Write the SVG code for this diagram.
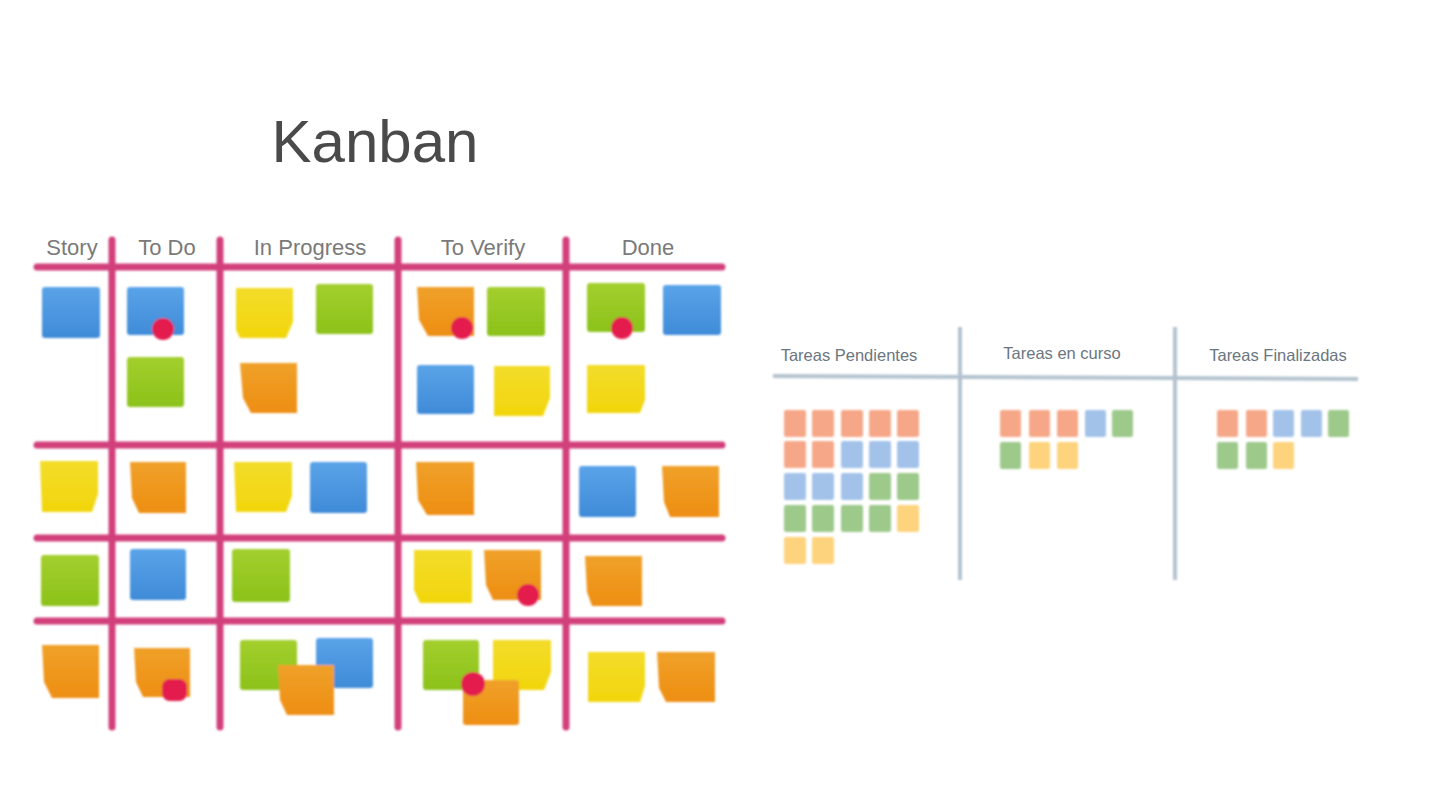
<svg xmlns="http://www.w3.org/2000/svg" width="1440" height="810" viewBox="0 0 1440 810">
<defs>
<filter id="soft" x="-5%" y="-5%" width="110%" height="110%"><feGaussianBlur stdDeviation="1.3"/></filter>
<linearGradient id="gB" x1="0" y1="0" x2="0" y2="1"><stop offset="0" stop-color="#5aa3e8"/><stop offset="1" stop-color="#3f8bd8"/></linearGradient>
<linearGradient id="gG" x1="0" y1="0" x2="0" y2="1"><stop offset="0" stop-color="#a3cf2e"/><stop offset="1" stop-color="#8cc21a"/></linearGradient>
<linearGradient id="gY" x1="0" y1="0" x2="0" y2="1"><stop offset="0" stop-color="#f3dc2a"/><stop offset="1" stop-color="#f2d60c"/></linearGradient>
<linearGradient id="gO" x1="0" y1="0" x2="0" y2="1"><stop offset="0" stop-color="#f0a12a"/><stop offset="1" stop-color="#ee8e12"/></linearGradient>
</defs>
<style>
.title{font-family:"Liberation Sans",Arial,sans-serif;font-size:60px;fill:#4a4a4a}
.hd{font-family:"Liberation Sans",Arial,sans-serif;font-size:22px;fill:#7a7a7a;text-anchor:middle}
.hd2{font-family:"Liberation Sans",Arial,sans-serif;font-size:16.5px;fill:#6b7680;text-anchor:middle}
.pl{stroke:#d2407c;stroke-width:7;stroke-linecap:round}
.gl{stroke:#b3c3cf;stroke-width:4}
.B{fill:url(#gB)}.G{fill:url(#gG)}.Y{fill:url(#gY)}.O{fill:url(#gO)}
.dot{fill:#e31a4e}
.sb{fill:#a3c2e9}.so{fill:#f6a788}.sg{fill:#9dc98b}.sy{fill:#fdd37d}
</style>
<rect width="1440" height="810" fill="#fff"/>
<text class="title" x="375" y="162" text-anchor="middle">Kanban</text>

<g id="kanban-headers">
<text class="hd" x="72" y="255">Story</text>
<text class="hd" x="167" y="255">To Do</text>
<text class="hd" x="310" y="255">In Progress</text>
<text class="hd" x="483" y="255">To Verify</text>
<text class="hd" x="648" y="255">Done</text>
</g>

<g id="kanban-grid" filter="url(#soft)">
<line class="pl" x1="37" y1="267" x2="722" y2="267"/>
<line class="pl" x1="37" y1="445" x2="722" y2="445"/>
<line class="pl" x1="37" y1="538" x2="722" y2="538"/>
<line class="pl" x1="37" y1="621" x2="722" y2="621"/>
<line class="pl" x1="112" y1="240" x2="112" y2="727"/>
<line class="pl" x1="220" y1="240" x2="220" y2="727"/>
<line class="pl" x1="398" y1="240" x2="398" y2="727"/>
<line class="pl" x1="566" y1="240" x2="566" y2="727"/>
</g>

<g id="kanban-notes" filter="url(#soft)">
<rect class="B" x="42" y="287" width="58" height="51" rx="3"/>
<rect class="B" x="127" y="287" width="57" height="48" rx="3"/>
<circle class="dot" cx="163" cy="329" r="11"/>
<rect class="G" x="127" y="357" width="57" height="50" rx="3"/>
<path class="Y" d="M236 288 H293 V322 L286 338 H240 L236 330 Z"/>
<rect class="G" x="316" y="284" width="57" height="50" rx="3"/>
<path class="O" d="M240 363 H297 V413 H251 L243 398 Z"/>
<path class="O" d="M417 287 H474 V336 H428 L419 320 Z"/>
<circle class="dot" cx="462" cy="328" r="11"/>
<rect class="G" x="487" y="287" width="58" height="49" rx="3"/>
<rect class="B" x="417" y="365" width="57" height="49" rx="3"/>
<path class="Y" d="M494 366 H550 V398 L543 416 H494 Z"/>
<rect class="G" x="587" y="283" width="58" height="49" rx="3"/>
<circle class="dot" cx="622" cy="328" r="11"/>
<rect class="B" x="663" y="285" width="58" height="50" rx="3"/>
<path class="Y" d="M587 365 H645 V400 L640 413 H587 Z"/>
<path class="Y" d="M40 461 H98 V494 L92 512 H42 Z"/>
<path class="O" d="M130 462 H186 V513 H139 L132 498 Z"/>
<path class="Y" d="M234 462 H292 V496 L286 512 H236 Z"/>
<rect class="B" x="310" y="462" width="57" height="51" rx="3"/>
<path class="O" d="M416 462 H474 V515 H427 L418 500 Z"/>
<rect class="B" x="579" y="466" width="57" height="51" rx="3"/>
<path class="O" d="M662 466 H719 V517 H670 L664 502 Z"/>
<rect class="G" x="41" y="555" width="58" height="51" rx="3"/>
<rect class="B" x="130" y="549" width="56" height="51" rx="3"/>
<rect class="G" x="232" y="549" width="58" height="53" rx="3"/>
<path class="Y" d="M414 550 H472 V603 H420 L414 590 Z"/>
<path class="O" d="M484 550 H541 V600 H493 L486 585 Z"/>
<circle class="dot" cx="528" cy="595" r="11"/>
<path class="O" d="M585 556 H642 V606 H592 L587 592 Z"/>
<path class="O" d="M42 645 H99 V698 H52 L44 682 Z"/>
<path class="O" d="M134 648 H190 V697 H143 L136 682 Z"/>
<rect class="dot" x="162" y="679" width="25" height="22" rx="8"/>
<rect class="G" x="240" y="640" width="57" height="50" rx="3"/>
<rect class="B" x="316" y="638" width="57" height="50" rx="3"/>
<path class="O" d="M278 665 H334 V715 H287 L280 700 Z"/>
<rect class="G" x="423" y="640" width="56" height="50" rx="3"/>
<path class="Y" d="M493 640 H551 V672 L544 690 H493 Z"/>
<rect class="O" x="463" y="680" width="56" height="45" rx="3"/>
<circle class="dot" cx="473" cy="684" r="12"/>
<path class="Y" d="M588 652 H645 V686 L640 702 H588 Z"/>
<path class="O" d="M657 652 H715 V702 H666 L659 688 Z"/>
</g>

<g id="task-headers">
<text class="hd2" x="849" y="361">Tareas Pendientes</text>
<text class="hd2" x="1062" y="359">Tareas en curso</text>
<text class="hd2" x="1278" y="361">Tareas Finalizadas</text>
</g>

<g id="task-grid" filter="url(#soft)">
<line class="gl" x1="773" y1="376" x2="1358" y2="379"/>
<line class="gl" x1="960" y1="327" x2="960" y2="580"/>
<line class="gl" x1="1175" y1="327" x2="1175" y2="580"/>
</g>

<g id="task-cards" filter="url(#soft)">
<rect class="so" x="784" y="410" width="22" height="27" rx="2"/>
<rect class="so" x="812" y="410" width="22" height="27" rx="2"/>
<rect class="so" x="841" y="410" width="22" height="27" rx="2"/>
<rect class="so" x="869" y="410" width="22" height="27" rx="2"/>
<rect class="so" x="897" y="410" width="22" height="27" rx="2"/>
<rect class="so" x="784" y="441" width="22" height="27" rx="2"/>
<rect class="so" x="812" y="441" width="22" height="27" rx="2"/>
<rect class="sb" x="841" y="441" width="22" height="27" rx="2"/>
<rect class="sb" x="869" y="441" width="22" height="27" rx="2"/>
<rect class="sb" x="897" y="441" width="22" height="27" rx="2"/>
<rect class="sb" x="784" y="473" width="22" height="27" rx="2"/>
<rect class="sb" x="812" y="473" width="22" height="27" rx="2"/>
<rect class="sb" x="841" y="473" width="22" height="27" rx="2"/>
<rect class="sg" x="869" y="473" width="22" height="27" rx="2"/>
<rect class="sg" x="897" y="473" width="22" height="27" rx="2"/>
<rect class="sg" x="784" y="505" width="22" height="27" rx="2"/>
<rect class="sg" x="812" y="505" width="22" height="27" rx="2"/>
<rect class="sg" x="841" y="505" width="22" height="27" rx="2"/>
<rect class="sg" x="869" y="505" width="22" height="27" rx="2"/>
<rect class="sy" x="897" y="505" width="22" height="27" rx="2"/>
<rect class="sy" x="784" y="537" width="22" height="27" rx="2"/>
<rect class="sy" x="812" y="537" width="22" height="27" rx="2"/>
<rect class="so" x="1000" y="410" width="21" height="27" rx="2"/>
<rect class="so" x="1029" y="410" width="21" height="27" rx="2"/>
<rect class="so" x="1057" y="410" width="21" height="27" rx="2"/>
<rect class="sb" x="1085" y="410" width="21" height="27" rx="2"/>
<rect class="sg" x="1112" y="410" width="21" height="27" rx="2"/>
<rect class="sg" x="1000" y="442" width="21" height="27" rx="2"/>
<rect class="sy" x="1029" y="442" width="21" height="27" rx="2"/>
<rect class="sy" x="1057" y="442" width="21" height="27" rx="2"/>
<rect class="so" x="1217" y="410" width="21" height="27" rx="2"/>
<rect class="so" x="1246" y="410" width="21" height="27" rx="2"/>
<rect class="sb" x="1273" y="410" width="21" height="27" rx="2"/>
<rect class="sb" x="1301" y="410" width="21" height="27" rx="2"/>
<rect class="sg" x="1328" y="410" width="21" height="27" rx="2"/>
<rect class="sg" x="1217" y="442" width="21" height="27" rx="2"/>
<rect class="sg" x="1246" y="442" width="21" height="27" rx="2"/>
<rect class="sy" x="1273" y="442" width="21" height="27" rx="2"/>
</g>
</svg>
